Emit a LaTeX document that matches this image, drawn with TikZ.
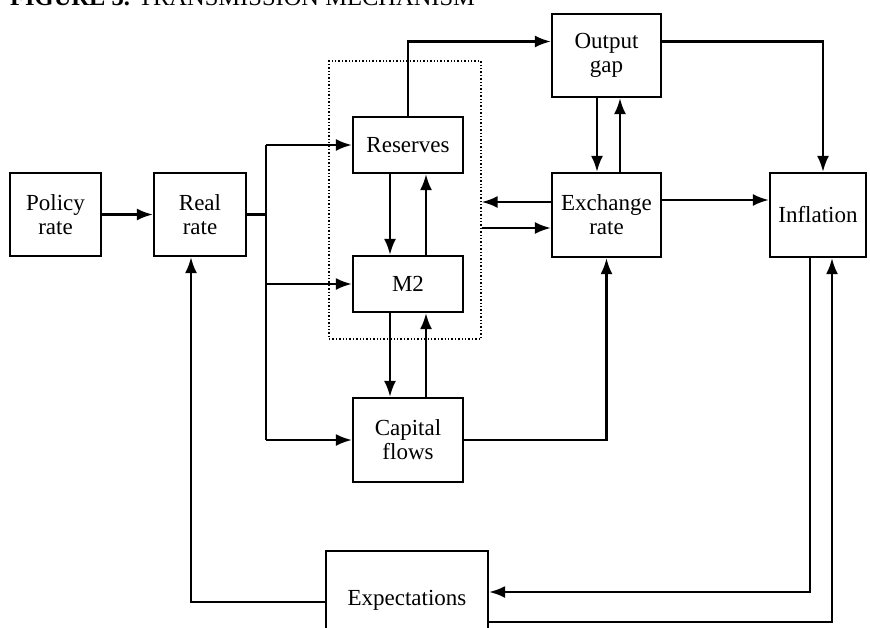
\documentclass[tikz,border=0pt]{standalone}
\usepackage{fontspec}
\setmainfont{Liberation Serif}
\usetikzlibrary{arrows.meta}
\begin{document}
\def\boxlw{2.4pt}
\def\linklw{2.1pt}
\begin{tikzpicture}[x=1pt, y=-1pt, line join=miter,
>={Latex[length=16pt,width=12pt]},
blk/.style={draw, line width=\boxlw, align=center, inner sep=0pt, font=\fontsize{23}{24}\selectfont},
link/.style={line width=\linklw},
]
\useasboundingbox (0,0) rectangle (870,627);
\node[anchor=base west, inner sep=0pt, font=\fontsize{24.5}{26}\selectfont](title) at (10,5) {\textbf{FIGURE 3.} TRANSMISSION MECHANISM};

\node[draw, dotted, line width=1.4pt, minimum width=152pt, minimum height=278pt](core) at (405,200) {}; % money block
\node[blk, minimum width=91pt, minimum height=83pt](policy) at (55.5,214.5) {Policy\\rate};
\node[blk, minimum width=92pt, minimum height=83pt](real) at (200,214.5) {Real\\rate};
\node[blk, minimum width=110pt, minimum height=56pt](res) at (408,145) {Reserves};
\node[blk, minimum width=110pt, minimum height=56pt](m2) at (408,284) {M2};
\node[blk, minimum width=110pt, minimum height=84pt](cap) at (408,440) {Capital\\flows};
\node[blk, minimum width=109pt, minimum height=83pt](gap) at (606.5,55.5) {Output\\gap};
\node[blk, minimum width=109pt, minimum height=84pt](exch) at (606.5,215) {Exchange\\rate};
\node[blk, minimum width=96pt, minimum height=84pt](infl) at (818,215) {Inflation};
\node[blk, minimum width=162pt, minimum height=98pt](expect) at (407,600) {Expectations};

\coordinate(split) at (266,214.5);
\coordinate(bustop) at (266,145);
\coordinate(busmid) at (266,284);
\coordinate(busbot) at (266,440);

\draw[link,->] (policy) -- (real);
\draw[link] (real) -- (split);
\draw[link] (bustop) -- (busbot);
\draw[link,->] (bustop) -- (res);
\draw[link,->] (busmid) -- (m2);
\draw[link,->] (busbot) -- (cap);

\draw[link,->] ([xshift=-18pt]res.south) -- ([xshift=-18pt]m2.north);
\draw[link,->] ([xshift=18pt]m2.north) -- ([xshift=18pt]res.south);
\draw[link,->] ([xshift=-18pt]m2.south) -- ([xshift=-18pt]cap.north);
\draw[link,->] ([xshift=18pt]cap.north) -- ([xshift=18pt]m2.south);

\draw[link,->] (res.north) |- ([yshift=14pt]gap.west);
\draw[link,->] ([yshift=14pt]gap.east) -| ([xshift=5pt]infl.north);
\draw[link,->] ([xshift=-9.5pt]gap.south) -- ([xshift=-9.5pt]exch.north);
\draw[link,->] ([xshift=13.5pt]exch.north) -- ([xshift=13.5pt]gap.south);

\draw[link,->] ([yshift=13pt]exch.west) -- ([yshift=13pt]exch.west -| core.east);
\draw[link,->] ([yshift=-13pt]exch.west -| core.east) -- ([yshift=-13pt]exch.west);
\draw[link,->] ([yshift=15pt]exch.east) -- ([yshift=15pt]infl.west);
\draw[link,->] (cap.east) -| (exch.south);

\draw[link,->] ([xshift=-8pt]infl.south) |- ([yshift=8pt]expect.east);
\draw[link,->] ([yshift=-22pt]expect.east) -| ([xshift=14pt]infl.south);
\draw[link,->] ([yshift=-2pt]expect.west) -| ([xshift=-9pt]real.south);
\end{tikzpicture}
\end{document}
